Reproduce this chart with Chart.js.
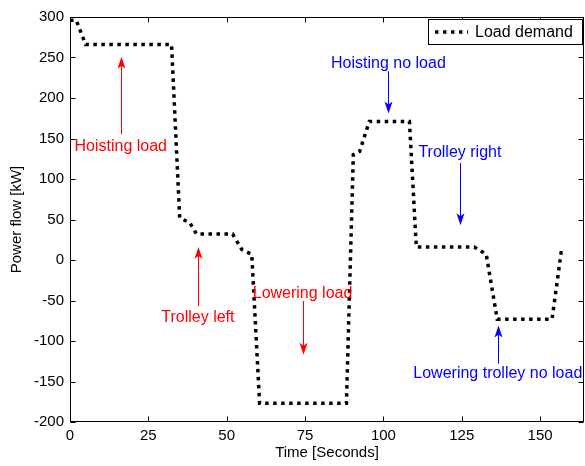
<!DOCTYPE html>
<html>
<head>
<meta charset="utf-8">
<script src="https://cdn.jsdelivr.net/npm/chart.js@4/dist/chart.umd.min.js"></script>
<style>
  body { margin: 0; background: #fff; }
  canvas { display: block; }
</style>
</head>
<body>
<canvas id="loadChart" width="585" height="466"></canvas>
<script>
// crane cycle load profile
var seriesName = 'Load demand';
var timeSec = [0, 2, 5, 32.4, 35, 38.2, 40.4, 51.9, 54.8, 58, 60.5, 88.2, 90.4, 92.4, 95.5, 108.3, 110.5, 129, 132.8, 136.3, 153.8, 156.7, 158.6];
var loadKW  = [296, 296, 266, 266, 52, 46, 32, 32, 13, 7, -177, -177, 130, 134, 171, 171, 16, 16, 7, -73, -73, 9, 9];

var xTicks = [0, 25, 50, 75, 100, 125, 150];
var yTicks = [-200, -150, -100, -50, 0, 50, 100, 150, 200, 250, 300];

var xTitle = 'Time [Seconds]';
var yTitle = 'Power flow [kW]';

// text labels with arrows (x, text y, arrow from -> to, in data units)
var notes = [
  { text: 'Hoisting load', color: '#ff0000', x: 16.2, ty: 140, from: 155, to: 251 },
  { text: 'Trolley left', color: '#ff0000', x: 40.8, ty: -71, from: -57, to: 16 },
  { text: 'Lowering load', color: '#ff0000', x: 74.2, ty: -41, from: -50.5, to: -117 },
  { text: 'Hoisting no load', color: '#0000ff', x: 101.6, ty: 243, from: 233, to: 181 },
  { text: 'Trolley right', color: '#0000ff', x: 124.4, ty: 132, from: 119.5, to: 43 },
  { text: 'Lowering trolley no load', color: '#0000ff', x: 136.5, ty: -140, from: -128, to: -81 }
];

var fontFam = '"Liberation Sans", Arial, Helvetica, sans-serif';
var tickFont = { family: fontFam, size: 15 };
var titleFont = { family: fontFam, size: 15 };
var dotDash = [3.5, 4.5];

function drawArrow(ctx, x, y0, y1, color) {
  var dir = y1 < y0 ? 1 : -1; // 1 = pointing up
  ctx.strokeStyle = color;
  ctx.lineWidth = 1;
  ctx.beginPath();
  ctx.moveTo(x, y0);
  ctx.lineTo(x, y1 + dir * 8);
  ctx.stroke();
  ctx.fillStyle = color;
  ctx.beginPath();
  ctx.moveTo(x, y1);
  ctx.lineTo(x - 4, y1 + dir * 12);
  ctx.lineTo(x, y1 + dir * 9);
  ctx.lineTo(x + 4, y1 + dir * 12);
  ctx.closePath();
  ctx.fill();
}

var framePlugin = {
  id: 'frame',
  afterDraw: function(chart) {
    var ctx = chart.ctx;
    var a = chart.chartArea;
    var xs = chart.scales.x, ys = chart.scales.y;
    ctx.save();

    // annotations
    ctx.font = '16px ' + fontFam;
    ctx.textAlign = 'center';
    ctx.textBaseline = 'middle';
    notes.forEach(function(n) {
      var px = Math.round(xs.getPixelForValue(n.x)) + 0.5;
      drawArrow(ctx, px, ys.getPixelForValue(n.from), ys.getPixelForValue(n.to), n.color);
      ctx.fillStyle = n.color;
      ctx.fillText(n.text, xs.getPixelForValue(n.x), ys.getPixelForValue(n.ty));
    });

    // box and inward ticks
    ctx.strokeStyle = '#000';
    ctx.lineWidth = 1;
    ctx.setLineDash([]);
    var L = Math.round(a.left) + 0.5, R = Math.round(a.right) - 0.5;
    var T = Math.round(a.top) + 0.5, B = Math.round(a.bottom) - 0.5;
    ctx.strokeRect(L, T, R - L, B - T);
    ctx.beginPath();
    xTicks.forEach(function(v) {
      var px = Math.round(xs.getPixelForValue(v)) + 0.5;
      ctx.moveTo(px, B); ctx.lineTo(px, B - 5);
      ctx.moveTo(px, T); ctx.lineTo(px, T + 5);
    });
    yTicks.forEach(function(v) {
      var py = Math.round(ys.getPixelForValue(v)) + 0.5;
      ctx.moveTo(L, py); ctx.lineTo(L + 5, py);
      ctx.moveTo(R, py); ctx.lineTo(R - 5, py);
    });
    ctx.stroke();

    // legend box
    var ds = chart.data.datasets[0];
    var lx = 428.5, ly = 19.5, lw = 154, lh = 25;
    ctx.fillStyle = '#fff';
    ctx.fillRect(lx, ly, lw, lh);
    ctx.strokeRect(lx, ly, lw, lh);
    ctx.strokeStyle = ds.borderColor;
    ctx.lineWidth = ds.borderWidth;
    ctx.setLineDash(ds.borderDash);
    ctx.beginPath();
    ctx.moveTo(435, ly + lh / 2);
    ctx.lineTo(468, ly + lh / 2);
    ctx.stroke();
    ctx.setLineDash([]);
    ctx.fillStyle = '#000';
    ctx.textAlign = 'left';
    ctx.font = '16px ' + fontFam;
    ctx.fillText(ds.label, 475, ly + lh / 2 + 1);
    ctx.restore();
  }
};

var points = timeSec.map(function(t, i) { return { x: t, y: loadKW[i] }; });

var ctx = document.getElementById('loadChart').getContext('2d');
new Chart(ctx, {
  type: 'scatter',
  data: {
    datasets: [{
      label: seriesName,
      data: points,
      showLine: true,
      borderColor: '#000',
      borderWidth: 3.5,
      borderDash: dotDash,
      borderCapStyle: 'butt',
      pointRadius: 0,
      fill: false,
      tension: 0
    }]
  },
  options: {
    responsive: false,
    animation: false,
    devicePixelRatio: 1,
    layout: { padding: { left: 0, right: 1, top: 17, bottom: 0 } },
    plugins: { legend: { display: false }, tooltip: { enabled: false } },
    scales: {
      x: {
        type: 'linear',
        min: 0,
        max: 164,
        afterBuildTicks: function(s) { s.ticks = xTicks.map(function(v) { return { value: v }; }); },
        afterFit: function(s) { s.height = 44; },
        grid: { display: false, drawTicks: false },
        border: { display: false },
        ticks: { font: tickFont, color: '#000', padding: 5, maxRotation: 0, autoSkip: false },
        title: { display: true, text: xTitle, font: titleFont, color: '#000', padding: { top: 0, bottom: 4 } }
      },
      y: {
        type: 'linear',
        min: -200,
        max: 300,
        afterBuildTicks: function(s) { s.ticks = yTicks.map(function(v) { return { value: v }; }); },
        afterFit: function(s) { s.width = 70; },
        grid: { display: false, drawTicks: false },
        border: { display: false },
        ticks: { font: tickFont, color: '#000', padding: 6, autoSkip: false },
        title: { display: true, text: yTitle, font: titleFont, color: '#000', padding: { top: 8, bottom: 0 } }
      }
    }
  },
  plugins: [framePlugin]
});
</script>
</body>
</html>
